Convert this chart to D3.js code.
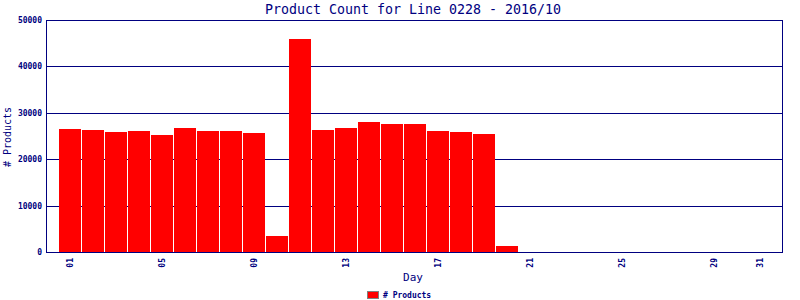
<!DOCTYPE html>
<html>
<head>
<meta charset="utf-8">
<script src="https://cdn.jsdelivr.net/npm/d3@7"></script>
<style>
  body { margin: 0; background: #fff; }
  text { fill: #000080; }
</style>
</head>
<body>
<svg id="chart" width="800" height="300"></svg>
<script>
// data
const products = [26500, 26300, 25900, 26100, 25200, 26700, 26100, 26100, 25600, 3400,
                  45900, 26300, 26700, 28000, 27600, 27600, 26100, 25900, 25400, 1300]
const dayTicks = [1, 5, 9, 13, 17, 21, 25, 29, 31]
const yTicks = [0, 10000, 20000, 30000, 40000, 50000]

const svg = d3.select("#chart")
const navy = "#000080"
const mono = "'DejaVu Sans Mono', monospace"

// plot box
const plotLeft = 47, plotRight = 783, plotTop = 20, plotBottom = 252

const x = d3.scaleLinear().domain([0, 32]).range([plotLeft, plotRight])
const y = d3.scaleLinear().domain([0, 50000]).range([plotBottom, plotTop])

// title
svg.append("text")
    .attr("x", 413).attr("y", 14)
    .attr("text-anchor", "middle")
    .style("font-family", mono).style("font-size", "13.3px")
    .text("Product Count for Line 0228 - 2016/10")

// gridlines
svg.append("g")
  .selectAll("line")
  .data(yTicks.filter(d => d > 0))
  .enter().append("line")
    .attr("x1", plotLeft).attr("x2", plotRight)
    .attr("y1", d => Math.round(y(d)) + 0.5)
    .attr("y2", d => Math.round(y(d)) + 0.5)
    .attr("stroke", navy)

// bars
svg.append("g")
  .selectAll("rect")
  .data(products)
  .enter().append("rect")
    .attr("x", (d, i) => x(i + 1) - 11)
    .attr("width", 22)
    .attr("y", d => Math.round(y(d)))
    .attr("height", d => plotBottom - Math.round(y(d)))
    .attr("fill", "#ff0000")

// frame
svg.append("rect")
    .attr("x", plotLeft - 0.5).attr("y", plotTop + 0.5)
    .attr("width", plotRight - plotLeft).attr("height", plotBottom - plotTop)
    .attr("fill", "none").attr("stroke", navy)

// y axis labels
svg.append("g")
  .selectAll("text")
  .data(yTicks)
  .enter().append("text")
    .attr("x", 42)
    .attr("y", d => y(d) + 3)
    .attr("text-anchor", "end")
    .style("font-family", mono).style("font-size", "8px").style("font-weight", "bold")
    .text(d => d)

// x axis labels, rotated
svg.append("g")
  .selectAll("text")
  .data(dayTicks)
  .enter().append("text")
    .attr("transform", d => "translate(" + (x(d) + 3) + ",258) rotate(-90)")
    .attr("text-anchor", "end")
    .style("font-family", mono).style("font-size", "8px").style("font-weight", "bold")
    .text(d => d3.format("02d")(d))

// axis titles
svg.append("text")
    .attr("x", 413).attr("y", 281)
    .attr("text-anchor", "middle")
    .style("font-family", mono).style("font-size", "11px")
    .text("Day")

svg.append("text")
    .attr("transform", "translate(11,137) rotate(-90)")
    .attr("text-anchor", "middle")
    .style("font-family", mono).style("font-size", "10px")
    .text("# Products")

// legend
svg.append("rect")
    .attr("x", 367.5).attr("y", 291.5)
    .attr("width", 11).attr("height", 7)
    .attr("fill", "#ff0000").attr("stroke", "#808080")

svg.append("text")
    .attr("x", 383).attr("y", 298)
    .style("font-family", mono).style("font-size", "8px").style("font-weight", "bold")
    .text("# Products")
</script>
</body>
</html>
